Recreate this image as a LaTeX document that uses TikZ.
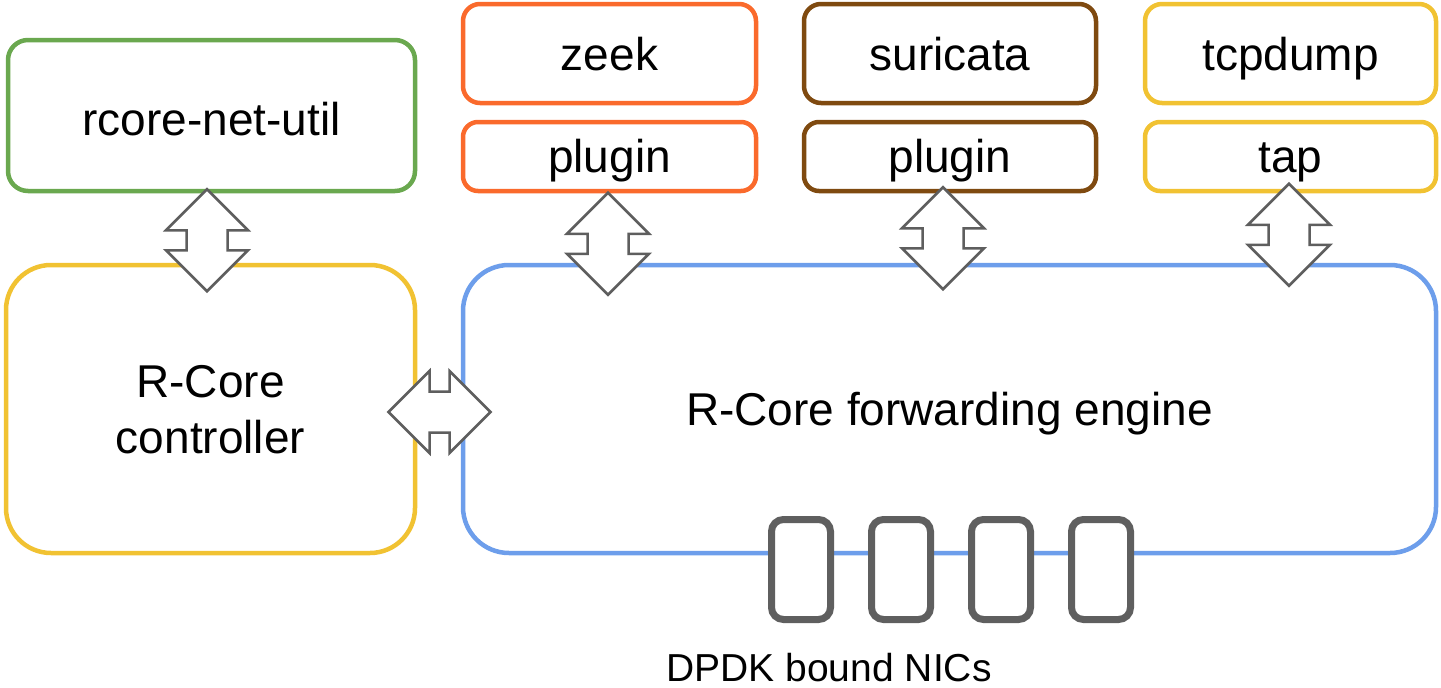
\documentclass[tikz,border=0pt]{standalone}
\usepackage{fontspec}
\setmainfont{Liberation Sans}
\usetikzlibrary{calc}
\definecolor{cgreen}{HTML}{6AA84F}
\definecolor{cyellow}{HTML}{F1C232}
\definecolor{cblue}{HTML}{6D9EEB}
\definecolor{corange}{HTML}{FA6A2C}
\definecolor{cbrown}{HTML}{7F4A10}
\definecolor{cnic}{HTML}{5F5F5F}
\definecolor{carrow}{HTML}{5E5E5E}
\newcommand{\vdarr}[1]{%
  \draw[darr] ($(#1)+(0,-50.5)$) -- ++(41,41) -- ++(-20.5,0) -- ++(0,20) -- ++(20.5,0)
    -- ++(-41,41) -- ++(-41,-41) -- ++(20.5,0) -- ++(0,-20) -- ++(-20.5,0) -- cycle;}
\newcommand{\hdarr}[1]{%
  \draw[darr] ($(#1)+(-50.5,0)$) -- ++(41,-41) -- ++(0,20.5) -- ++(20,0) -- ++(0,-20.5)
    -- ++(41,41) -- ++(-41,41) -- ++(0,-20.5) -- ++(-20,0) -- ++(0,20.5) -- cycle;}
\begin{document}
\begin{tikzpicture}[x=1pt,y=-1pt,
  box/.style={draw, line width=4.5pt, fill=white, inner sep=0pt, align=center,
    font=\fontsize{46}{56}\selectfont, text height=33pt, text depth=0pt},
  smallbox/.style={box, text height=31pt, rounded corners=15pt, minimum height=69pt},
  topbox/.style={box, rounded corners=17pt, minimum height=99pt},
  nic/.style={draw=cnic, line width=7pt, fill=white, rounded corners=12pt,
    minimum width=59pt, minimum height=100pt, inner sep=0pt},
  darr/.style={draw=carrow, line width=2.5pt, fill=white, line join=miter}]
\useasboundingbox (0,0) rectangle (1441,688);
\node[box, draw=cgreen, rounded corners=20pt, minimum width=407pt, minimum height=151pt, text height=40pt] (util) at (211.5,115.5) {rcore-net-util};
\node[box, draw=cyellow, rounded corners=45pt, minimum width=409pt, minimum height=288pt, text height=89pt] (ctrl) at (210.5,409) {R-Core\\controller};
\node[box, draw=cblue, rounded corners=46pt, minimum width=973pt, minimum height=288pt] (eng) at (949.5,409) {R-Core forwarding engine};
\node[topbox, draw=corange, minimum width=293pt] (zeek) at (609.5,53.5) {zeek};
\node[smallbox, draw=corange, minimum width=293pt] (zplug) at (609.5,156.5) {plugin};
\node[topbox, draw=cbrown, minimum width=292pt] (suri) at (950,53.5) {suricata};
\node[smallbox, draw=cbrown, minimum width=292pt] (splug) at (950,156.5) {plugin};
\node[topbox, draw=cyellow, minimum width=291pt] (tcp) at (1290.5,53.5) {tcpdump};
\node[smallbox, draw=cyellow, minimum width=291pt] (tap) at (1290.5,156.5) {tap};
\node[nic] (n1) at (801,569.5) {};
\node[nic] (n2) at (901,569.5) {};
\node[nic] (n3) at (1001,569.5) {};
\node[nic] (n4) at (1101,569.5) {};
\node[font=\fontsize{39}{46}\selectfont, anchor=base, inner sep=0pt] (dpdk) at (829,681) {DPDK bound NICs};
\coordinate (a1) at ($(util.south)+(-4.5,46.5)$);
\coordinate (a2) at ($(zplug.south)+(-1.5,50)$);
\coordinate (a3) at ($(splug.south)+(-7,44.5)$);
\coordinate (a4) at ($(tap.south)+(-1.5,41)$);
\coordinate (a5) at ($(ctrl.east)!0.5!(eng.west)+(0,3)$);
\vdarr{a1}
\vdarr{a2}
\vdarr{a3}
\vdarr{a4}
\hdarr{a5}
\end{tikzpicture}
\end{document}
